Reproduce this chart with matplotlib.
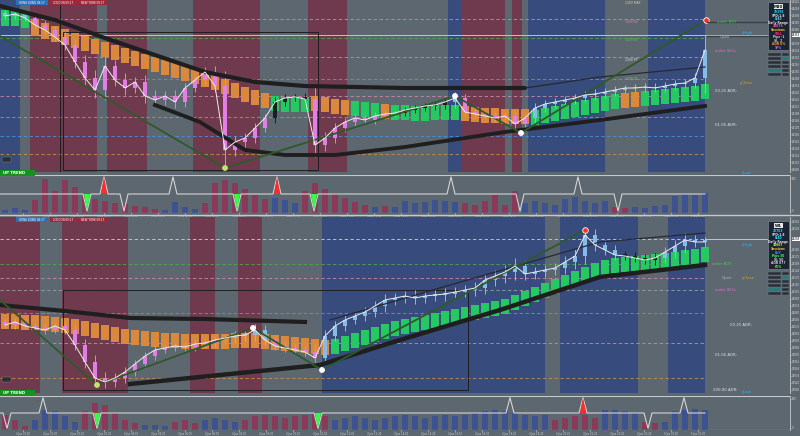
import matplotlib
matplotlib.use('Agg')
import matplotlib.pyplot as plt
import numpy as np
from matplotlib.patches import Rectangle, Polygon

W, H = 800, 436
BG = '#5d6770'
MAROON = '#6f3a4e'
NAVY = '#374b7c'
ORANGE = '#d9883c'
GREEN = '#25c861'
PINK = '#e27ee6'
LBLUE = '#86bde8'
HMAROON = '#8a3a58'
HBLUE = '#3d5391'

# ---------------- upper chart (M30) ----------------
top_close = [26392, 26396, 26388, 26374, 26364, 26350, 26334, 26300, 26268, 26244,
             26292, 26264, 26248, 26260, 26232, 26224, 26232, 26220, 26248, 26264,
             26280, 26252, 26124, 26140, 26148, 26168, 26188, 26220, 26228, 26230,
             26226, 26134, 26148, 26168, 26180, 26188, 26184, 26192, 26196, 26198,
             26204, 26208, 26212, 26214, 26220, 26228, 26200, 26196, 26192, 26188,
             26192, 26176, 26188, 26208, 26216, 26220, 26224, 26228, 26234, 26236,
             26240, 26244, 26248, 26248, 26250, 26248, 26252, 26256, 26258, 26268,
             26324]
top_wick = [6, 6, 6, 8, 10, 8, 10, 12, 14, 16, 20, 12, 14, 10, 14, 12, 10, 12, 10, 8,
            10, 12, 30, 12, 10, 10, 8, 10, 8, 6, 8, 24, 12, 10, 8, 8, 6, 8, 6, 6,
            6, 6, 6, 8, 8, 12, 8, 8, 6, 8, 8, 10, 8, 10, 8, 8, 8, 8, 8, 10,
            8, 8, 6, 8, 8, 8, 8, 8, 8, 10, 30]
top_candle = 'bbb' + 'p' * 24 + 'kkkk' + 'p' * 9 + 'kkkkk' + 'b' + 'p' * 7 + 'b' * 18
top_ribbon = [26388, 26388, 26384, 26368, 26362, 26356, 26350, 26344, 26338, 26332,
              26326, 26320, 26314, 26308, 26302, 26296, 26290, 26284, 26278, 26272,
              26266, 26260, 26252, 26244, 26236, 26230, 26224, 26218, 26216, 26216,
              26216, 26218, 26216, 26212, 26210, 26208, 26206, 26204, 26202, 26200,
              26200, 26198, 26198, 26200, 26200, 26200, 26198, 26196, 26194, 26194,
              26192, 26192, 26192, 26190, 26194, 26198, 26202, 26206, 26210, 26214,
              26218, 26222, 26224, 26226, 26228, 26230, 26232, 26234, 26236, 26238,
              26242]
top_ribbon_col = 'ggg' + 'o' * 24 + 'gggg' + 'oooo' + 'ggg' + 'o' + 'g' * 7 + 'o' * 7 + 'g' * 9 + 'oo' + 'g' * 7
top_slow_x = [-0.5, 5, 10, 15, 20, 25, 30, 35, 40, 45, 52]
top_slow_y = [26412, 26384, 26348, 26314, 26280, 26260, 26252, 26250, 26248, 26248, 26248]
top_thin_x = [52, 59.5, 70]
top_thin_y = [26248, 26270, 26290]
top_low_x = [15, 19.5, 24, 28, 31, 33, 40, 50, 59.5, 70]
top_low_y = [26214, 26180, 26124, 26114, 26114, 26114, 26130, 26160, 26184, 26212]
top_zz_x = [-0.5, 22, 45, 51.6, 70.1]
top_zz_y = [26352, 26088, 26232, 26158, 26384]
top_levels = [26386, 26348, 26310, 26266, 26232, 26190, 26152, 26116]
top_level_col = ['#c98aa8', '#4fa84f', '#9aa0a6', '#7e9a6a', '#c98aa8', '#c89048', '#4a90e0', '#c89048']
top_bands = [(-0.5, 1.5, 'b'), (2.5, 9.2, 'm'), (10.2, 14.2, 'm'), (18.8, 25.5, 'm'),
             (30.3, 34.2, 'm'), (44.3, 45.7, 'b'), (45.7, 50.0, 'm'), (50.7, 51.7, 'm'),
             (52.3, 60.0, 'b'), (64.3, 70.0, 'b')]
top_vol = [8, 13, 8, 34, 89, 58, 87, 68, 47, 37, 32, 26, 24, 18, 16, 11, 8, 29, 16, 11,
           26, 79, 87, 79, 63, 47, 37, 39, 34, 26, 58, 79, 63, 50, 39, 29, 21, 16, 18, 16,
           32, 26, 29, 34, 32, 29, 26, 21, 32, 47, 21, 58, 26, 32, 26, 21, 37, 42, 32, 26,
           32, 16, 13, 16, 13, 18, 21, 45, 50, 47, 53]
top_vol_col = 'bbb' + 'm' * 13 + 'bbbb' + 'm' * 7 + 'bbb' + 'm' * 7 + 'b' + 'm' + 'b' * 7 + 'm' * 6 + 'b' * 9 + 'mm' + 'b' * 8
top_sig_x = [8.2, 9.9, 11.9, 16.8, 23.2, 27.2, 30.9, 44.6, 51.5, 57.3, 61.3]
top_sig_dir = [-1, 1, -1, 1, -1, 1, -1, 1, -1, 1, -1]
top_sig_col = ['g', 'r', 'w', 'w', 'g', 'r', 'g', 'w', 'w', 'w', 'w']

# ---------------- lower chart (W1) ----------------
bot_close = [26036, 26042, 26034, 26030, 26026, 26034, 26026, 25996, 25962, 25930,
             25922, 25930, 25942, 25958, 25974, 25986, 25990, 25994, 25992, 25998,
             26000, 26006, 26010, 26014, 26016, 26026, 26006, 25994, 25990, 25986,
             25982, 25970, 26014, 26034, 26046, 26054, 26062, 26074, 26086, 26090,
             26094, 26090, 26094, 26096, 26098, 26102, 26106, 26110, 26126, 26134,
             26142, 26154, 26138, 26142, 26146, 26150, 26162, 26174, 26216, 26196,
             26186, 26176, 26174, 26170, 26166, 26170, 26182, 26194, 26206, 26202,
             26202]
bot_wick = [6, 8, 6, 6, 8, 6, 8, 10, 12, 14, 12, 10, 10, 8, 8, 8, 6, 6, 8, 8,
            8, 8, 8, 10, 10, 12, 10, 8, 8, 8, 8, 16, 12, 10, 10, 8, 10, 10, 12, 10,
            10, 12, 10, 10, 12, 10, 10, 12, 12, 12, 14, 16, 12, 10, 10, 10, 12, 14, 16, 12,
            10, 10, 8, 8, 8, 10, 10, 12, 14, 10, 10]
bot_candle = 'p' * 23 + 'bbbb' + 'ppppp' + 'b' * 30 + 'kkkk' + 'bbbbb'
bot_ribbon = [26042, 26042, 26040, 26040, 26038, 26036, 26034, 26032, 26028, 26024,
              26020, 26016, 26012, 26010, 26008, 26006, 26004, 26004, 26002, 26002,
              26002, 26002, 26002, 26004, 26004, 26004, 26002, 26000, 25998, 25996,
              25994, 25992, 25990, 25992, 25998, 26004, 26010, 26016, 26022, 26028,
              26032, 26036, 26040, 26044, 26048, 26052, 26056, 26060, 26064, 26068,
              26072, 26080, 26088, 26096, 26104, 26112, 26120, 26128, 26136, 26144,
              26150, 26154, 26156, 26158, 26160, 26162, 26164, 26166, 26170, 26172,
              26176]
bot_ribbon_col = 'o' * 33 + 'g' * 38
bot_slow_x = [-0.5, 6, 12.5, 20, 30]
bot_slow_y = [26076, 26064, 26050, 26048, 26042]
bot_thin_x = [32.5, 44.5, 59.5, 70]
bot_thin_y = [26046, 26116, 26202, 26220]
bot_low_x = [12.5, 31.5, 39.5, 49.5, 59.5, 70]
bot_low_y = [25918, 25956, 26006, 26066, 26132, 26156]
bot_zz_x = [-0.5, 9.2, 24.8, 31.7, 58]
bot_zz_y = [26086, 25916, 26030, 25946, 26226]
bot_levels = [26208, 26158, 26130, 26106, 26060, 26000, 25930]
bot_level_col = ['#d0d0d0', '#4fa84f', '#c98aa8', '#9aa0a6', '#7e9a6a', '#c98aa8', '#c89048']
bot_bands = [(-0.5, 3.5, 'm'), (5.7, 12.3, 'm'), (18.5, 21.0, 'm'), (23.3, 25.7, 'm'),
             (31.7, 54.0, 'b'), (55.5, 63.3, 'b'), (66.3, 70.0, 'b')]
bot_vol = [45, 30, 12, 30, 60, 55, 40, 25, 55, 80, 75, 50, 30, 20, 15, 15, 12, 25, 30, 22,
           30, 35, 30, 25, 30, 40, 45, 40, 35, 40, 45, 50, 40, 30, 35, 40, 35, 30, 35, 40,
           45, 40, 35, 40, 45, 40, 45, 50, 55, 60, 55, 50, 45, 40, 45, 30, 35, 40, 45, 35,
           60, 58, 55, 50, 25, 22, 25, 55, 60, 62, 58]
bot_vol_col = 'mmm' + 'bbbbb' + 'm' * 6 + 'bbb' + 'mmm' + 'bbbb' + 'm' * 9 + 'b' * 22 + 'm' * 5 + 'bbbb' + 'mm' + 'b' * 5
bot_sig_x = [0.2, 3.8, 9.2, 31.3, 50.5, 57.8, 64.3, 67.9]
bot_sig_dir = [-1, 1, -1, -1, 1, 1, -1, 1]
bot_sig_col = ['w', 'w', 'g', 'g', 'w', 'r', 'w', 'w']

times = ['%d %s %02d:%02d' % (d, 'Jan', h, m) for d in (4, 5) for h in range(0, 24, 2) for m in (0, 30)]

fig = plt.figure(figsize=(8, 4.36), dpi=100)
fig.patch.set_facecolor(BG)


def add_px_axes(x0, y0, x1, y1):
    ax = fig.add_axes([x0 / W, 1 - y1 / H, (x1 - x0) / W, (y1 - y0) / H])
    ax.set_facecolor(BG)
    ax.set_xlim(-0.5, 78.5)
    for s in ax.spines.values():
        s.set_visible(False)
    ax.tick_params(axis='x', bottom=False, labelbottom=False)
    return ax


def right_scale(ax):
    ax.yaxis.tick_right()
    ax.tick_params(axis='y', colors='#d8d8d8', labelsize=1.9, length=1, width=0.4, pad=0.3)
    ax.spines['right'].set_visible(True)
    ax.spines['right'].set_color('#c8c8c8')
    ax.spines['right'].set_linewidth(0.6)


def draw_main(ax, close, wick, ccol, ribbon, rcol, bands, levels, lcol, ylim, cur):
    ax.set_ylim(*ylim)
    for a, b, k in bands:
        ax.axvspan(a, b, color=MAROON if k == 'm' else NAVY, lw=0, zorder=0)
    for lv, c in zip(levels, lcol):
        ax.plot([-0.5, 70], [lv, lv], color=c, lw=0.6, ls=(0, (4, 3)), zorder=1)
    x = np.arange(len(close))
    # ribbon bars
    rc = [ORANGE if c == 'o' else GREEN for c in rcol]
    r = np.array(ribbon)
    ax.bar(x, 30, bottom=r - 15, width=0.75, color=rc, lw=0, zorder=2)
    # candles
    cl = np.array(close)
    op = np.concatenate([[cl[0] + 6], cl[:-1]])
    colmap = {'p': PINK, 'b': LBLUE, 'k': '#1e1e1e'}
    cc = [colmap[c] for c in ccol]
    hi = np.maximum(op, cl) + np.array(wick)
    lo = np.minimum(op, cl) - np.array(wick)
    ax.vlines(x, lo, hi, colors=cc, lw=0.7, zorder=3)
    body = np.maximum(np.abs(cl - op), 3)
    ax.bar(x, body, bottom=np.minimum(op, cl), width=0.4, color=cc, lw=0, zorder=3)
    ax.plot(x, cl, color='#ececec', lw=0.7, zorder=4)
    # price scale
    right_scale(ax)
    ticks = [t for t in np.arange(ylim[0] + 6, ylim[1], 14) if abs(t - cur) > 9]
    ax.set_yticks(ticks)
    ax.set_yticklabels(['%d' % t for t in ticks])
    ax.text(78.7, cur, '%d' % cur, fontsize=1.9, color='black', va='center', ha='left',
            bbox=dict(boxstyle='square,pad=0.15', fc='white', ec='none'), clip_on=False)


def draw_ind(ax, vol, vcol, sx, sdir, scol):
    ax.set_ylim(0, 100)
    x = np.arange(len(vol))
    ax.bar(x, vol, width=0.6, color=[HMAROON if c == 'm' else HBLUE for c in vcol], lw=0)
    px, py = [-0.5], [50]
    for s, d in zip(sx, sdir):
        px += [s - 0.4, s, s + 0.4]
        py += [50, 50 + 45 * d, 50]
    px.append(70)
    py.append(50)
    ax.plot(px, py, color='#d4d4d4', lw=0.8, zorder=3)
    for s, d, c in zip(sx, sdir, scol):
        if c != 'w':
            ax.add_patch(Polygon([[s - 0.3, 50], [s, 50 + 45 * d], [s + 0.3, 50]], closed=True,
                                 fc='#ff2a2a' if c == 'r' else '#33ff44', ec='none', zorder=4))
    ax.axhline(100, color='#c8c8c8', lw=0.8)
    ax.axhline(0, color='#c8c8c8', lw=0.8)
    right_scale(ax)
    ax.set_yticks([92, 6])
    ax.set_yticklabels(['100', '0'])
    xt = np.arange(1.8, 70, 2.7)
    ax.set_xticks(xt)
    ax.set_xticklabels(times[:len(xt)])
    ax.tick_params(axis='x', bottom=True, labelbottom=True, labelsize=1.8, colors='#cfcfcf',
                   length=1, pad=0.4)


# ---- upper panels ----
ax1 = add_px_axes(0, 0, 790, 172)
draw_main(ax1, top_close, top_wick, top_candle, top_ribbon, top_ribbon_col, top_bands,
          top_levels, top_level_col, (26080, 26424), 26354)
ax1.plot([-0.5, 76.5], [26354, 26354], color='#cfd4da', lw=0.6, zorder=1)
ax1.plot(top_slow_x, top_slow_y, color='#1f1f1f', lw=3, solid_capstyle='round', zorder=3)
ax1.plot(top_thin_x, top_thin_y, color='#262a30', lw=0.9, zorder=3)
ax1.plot(top_low_x, top_low_y, color='#1f1f1f', lw=2.8, zorder=3)
ax1.plot(top_zz_x, top_zz_y, color='#2e5a2a', lw=1.3, zorder=3)
ax1.scatter(top_zz_x[1:4], top_zz_y[1:4], s=10, c=['#c8e070', 'white', 'white'], zorder=5)
ax1.scatter([top_zz_x[4]], [top_zz_y[4]], s=16, c='#ff3020', edgecolors='white', linewidths=0.6, zorder=5)
ax1.axvline(5.5, color='#1e1e1e', lw=0.7, zorder=2)
ax1.add_patch(Rectangle((5.8, 26084), 25.5, 26360 - 26084, fill=False, ec='#1e1e1e', lw=0.7, zorder=2))

ax1i = add_px_axes(0, 175, 790, 213)
draw_ind(ax1i, top_vol, top_vol_col, top_sig_x, top_sig_dir, top_sig_col)

# ---- lower panels ----
ax2 = add_px_axes(0, 217, 790, 393)
draw_main(ax2, bot_close, bot_wick, bot_candle, bot_ribbon, bot_ribbon_col, bot_bands,
          bot_levels, bot_level_col, (25900, 26252), 26208)
ax2.plot(bot_slow_x, bot_slow_y, color='#1f1f1f', lw=3, zorder=3)
ax2.plot(bot_thin_x, bot_thin_y, color='#262a30', lw=0.9, zorder=3)
ax2.plot(bot_low_x, bot_low_y, color='#1f1f1f', lw=3.2, zorder=3)
ax2.plot(bot_zz_x, bot_zz_y, color='#2e5a2a', lw=1.3, zorder=3)
ax2.scatter(bot_zz_x[1:4], bot_zz_y[1:4], s=10, c=['#c8e070', 'white', 'white'], zorder=5)
ax2.scatter([bot_zz_x[4]], [bot_zz_y[4]], s=16, c='#ff3020', edgecolors='white', linewidths=0.6, zorder=5)
ax2.add_patch(Rectangle((5.8, 25906), 40.5, 26106 - 25906, fill=False, ec='#1e1e1e', lw=0.7, zorder=2))

ax2i = add_px_axes(0, 396, 790, 430)
draw_ind(ax2i, bot_vol, bot_vol_col, bot_sig_x, bot_sig_dir, bot_sig_col)

# ---- overlay for terminal widgets (pixel coordinates) ----
ov = fig.add_axes([0, 0, 1, 1])
ov.set_xlim(0, W)
ov.set_ylim(H, 0)
ov.axis('off')
ov.patch.set_alpha(0)

ov.plot([0, 800], [215, 215], color='#c8c8c8', lw=1.0)
tabs = [('HONG KONG 09:17', 16, 48, '#2f6fb5'), ('LONDON 09:17', 50, 77, '#9a2a3a'),
        ('NEW YORK 09:17', 78, 108, '#9a2a3a')]
for yoff in (0, 217):
    for t, a, b, c in tabs:
        ov.add_patch(Rectangle((a, yoff), b - a, 5, fc=c, ec='none'))
        ov.text((a + b) / 2, yoff + 2.6, t, fontsize=2.0, color='white', ha='center', va='center')
for yoff in (170, 390):
    ov.add_patch(Rectangle((0, yoff), 35, 6, fc='#14911f', ec='none'))
    ov.text(3, yoff + 3, 'UP TREND', fontsize=2.8, color='white', weight='bold', va='center')
    ov.add_patch(Rectangle((2, yoff - 13), 9, 5, fc='#2a2f35', ec='#888', lw=0.3))

side = [
    [('order BUY', 717, 22, '#3fd24a'), ('yHigh', 742, 33, '#29b6f0'), ('Open', 720, 37, '#b8b8b8'),
     ('order SELL', 715, 51, '#e070c8'), ('yClose', 740, 83, '#d8a030'), ('00.25 ADR:', 715, 91, '#e0e0e0'),
     ('01.05 ADR:', 715, 125, '#e0e0e0'), ('yLow', 742, 173, '#29b6f0')],
    [('yHigh', 742, 245, '#29b6f0'), ('order BUY', 712, 264, '#3fd24a'), ('Open', 722, 278, '#b8b8b8'),
     ('yClose', 742, 278, '#d8a030'), ('order SELL', 715, 290, '#e070c8'), ('00.25 ADR:', 730, 325, '#e0e0e0'),
     ('01.05 ADR:', 715, 355, '#e0e0e0'), ('200.00 ADR:', 713, 390, '#e0e0e0'), ('yLow', 742, 392, '#29b6f0')]]
for group in side:
    for t, x0, y0, c in group:
        ov.text(x0, y0, t, fontsize=2.8, color=c, va='center', ha='left')
ov.plot([707, 767], [22, 22], color='#3a3f45', lw=1.0)
ov.plot([707, 767], [36, 36], color='#3a3f45', lw=1.0)
ov.plot([705, 767], [239, 239], color='#cfd4da', lw=0.6)

lvl_txt = [('1000 MAX', 625, 3, '#d8d0a0'), ('1000 R2', 625, 22, '#d090b0'), ('1000 R1', 625, 40, '#60c060'),
           ('1000 PP', 625, 60, '#e0e0e0'), ('1000 S1', 625, 79, '#80c080')]
for t, x0, y0, c in lvl_txt:
    ov.text(x0, y0, t, fontsize=2.2, color=c, va='center')

boxes = [
    (2, 'M30', [('26376', '#2fe0ff'), ('SPD:1.8', '#e0e0e0'), ('0:40', '#2fe0ff'), ('Daily Range', '#e0e0e0'),
                ('30075', '#ff60d0'), ('Sessions', '#ffc030'), ('SELL', '#ff3070'), ('Pips -1', '#d0d0d0'),
                ('SL  2', '#d0d0d0'), ('ADR 0%', '#ff9a30'), ('TP%', '#b070ff')]),
    (221, 'W1', [('26703', '#2fe0ff'), ('SPD:1.8', '#e0e0e0'), ('0:40', '#2fe0ff'), ('Daily Range', '#e0e0e0'),
                 ('30067', '#c0ff40'), ('Sessions', '#ffc030'), ('BUY', '#4080ff'), ('Pips 30', '#40ff60'),
                 ('SL 50', '#d0d0d0'), ('ADR 077', '#d0d0d0'), ('65%', '#40ff60')])]
for y0, title, lines in boxes:
    ov.add_patch(Rectangle((768, y0), 21, 48, fc='#1b2433', ec='#8a9099', lw=0.4))
    ov.add_patch(Rectangle((774, y0 + 2), 9, 5, fc='#e8e8e8', ec='none'))
    ov.text(778.5, y0 + 4.5, title, fontsize=2.8, color='#111', weight='bold', ha='center', va='center')
    for k, (t, c) in enumerate(lines):
        ov.text(778.5, y0 + 10 + k * 3.6, t, fontsize=2.2, color=c, ha='center', va='center', weight='bold')
    for r in range(6):
        for cidx, (bx, bw) in enumerate(((768, 13), (782, 7))):
            hl = (r, cidx) in ((1, 1), (4, 0))
            ov.add_patch(Rectangle((bx, y0 + 51 + r * 4), bw, 3.4, fc='#1f7a7a' if hl else '#2a3038',
                                   ec='#707880', lw=0.3))

fig.savefig('out.png', dpi=100, facecolor=fig.get_facecolor())
